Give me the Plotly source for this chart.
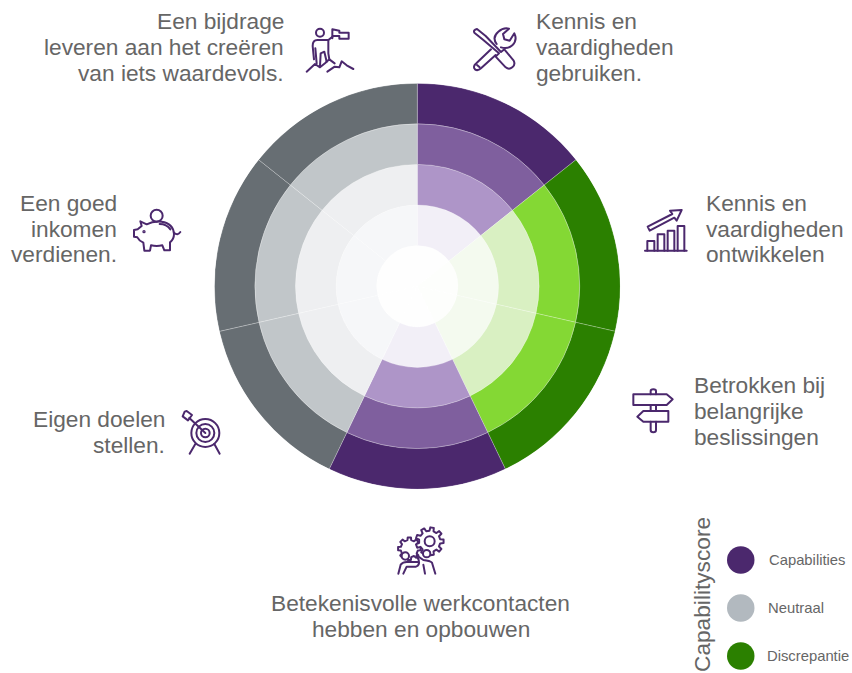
import base64, math
import plotly.graph_objects as go

W, H = 852, 673
categories = ["Kennis en vaardigheden gebruiken", "Kennis en vaardigheden ontwikkelen",
              "Betrokken bij belangrijke beslissingen", "Betekenisvolle werkcontacten",
              "Eigen doelen stellen", "Een goed inkomen verdienen", "Een bijdrage leveren"]
scores = ["Capabilities", "Discrepantie", "Discrepantie", "Capabilities", "Neutraal", "Neutraal", "Neutraal"]
rings = [1, 2, 3, 4, 5]
ring_widths = [1, 1, 1, 1, 1]
palette = {
    "Capabilities": ["#FEFEFE", "#F2EFF7", "#AE95C8", "#7F5F9E", "#4B286D"],
    "Discrepantie": ["#FDFEFC", "#F4FAEF", "#D9F0C2", "#84D834", "#2B8000"],
    "Neutraal":     ["#FEFEFE", "#F6F7F9", "#EEEFF1", "#C1C6C9", "#676E73"],
}
legend_labels = ["Capabilities", "Neutraal", "Discrepantie"]
legend_colors = ["#4B286D", "#B2B9BF", "#2B8000"]
TEXT = "#666666"
PURPLE = "#4B286D"
FONT = "Liberation Sans"
BIG = 22.7


def px(x): return x / W
def py(y): return 1 - y / H


fig = go.Figure()
step = 360 / len(categories)
thetas = [step * (i + 0.5) for i in range(len(categories))]
for k, ring in enumerate(rings):
    fig.add_trace(go.Barpolar(
        r=[ring_widths[k]] * len(categories),
        base=[ring - 1] * len(categories),
        theta=thetas,
        width=[step] * len(categories),
        text=categories,
        marker=dict(color=[palette[s][k] for s in scores],
                    line=dict(color="rgba(255,255,255,0.35)", width=0.7)),
        showlegend=False, hoverinfo="text",
    ))

labels = [
    ("Een bijdrage", 286, 21, "right"), ("leveren aan het creëren", 286, 47, "right"),
    ("van iets waardevols.", 286, 73, "right"),
    ("Kennis en", 534, 21, "left"), ("vaardigheden", 534, 47, "left"), ("gebruiken.", 534, 73, "left"),
    ("Kennis en", 704, 203, "left"), ("vaardigheden", 704, 229, "left"), ("ontwikkelen", 704, 254, "left"),
    ("Betrokken bij", 692, 385, "left"), ("belangrijke", 692, 411, "left"), ("beslissingen", 692, 437, "left"),
    ("Een goed", 119, 203, "right"), ("inkomen", 119, 229, "right"), ("verdienen.", 119, 254, "right"),
    ("Eigen doelen", 167, 419, "right"), ("stellen.", 167, 445, "right"),
    ("Betekenisvolle werkcontacten", 420.5, 603, "center"), ("hebben en opbouwen", 420.5, 629, "center"),
]
annotations = []
for txt, x, y, al in labels:
    annotations.append(dict(text=txt, x=px(x), y=py(y), xref="paper", yref="paper", showarrow=False,
                            xanchor=al, yanchor="middle", align=al,
                            font=dict(family=FONT, size=BIG, color=TEXT)))
annotations.append(dict(text="Capabilityscore", x=px(702), y=py(595), xref="paper", yref="paper",
                        showarrow=False, textangle=-90, xanchor="center", yanchor="middle",
                        font=dict(family=FONT, size=BIG, color=TEXT)))
shapes = []
for lab, col, y, x0 in zip(legend_labels, legend_colors, [560, 608, 656], [767, 766, 765]):
    shapes.append(dict(type="circle", xref="paper", yref="paper", fillcolor=col, line_width=0,
                       x0=px(727), x1=px(754.5), y0=py(y + 13.7), y1=py(y - 13.7)))
    annotations.append(dict(text=lab, x=px(x0), y=py(y), xref="paper", yref="paper", showarrow=False,
                            xanchor="left", yanchor="middle",
                            font=dict(family=FONT, size=14.8, color=TEXT)))


def gear(cx, cy, r0, r1, teeth):
    pts = []
    n = teeth
    for i in range(n):
        a = 2 * math.pi * i / n
        d = 2 * math.pi / n
        for off, r in [(-0.28, r0), (-0.18, r1), (0.18, r1), (0.28, r0)]:
            pts.append((cx + r * math.cos(a + off * d), cy + r * math.sin(a + off * d)))
    return "M" + " L".join(f"{x:.1f} {y:.1f}" for x, y in pts) + " Z"


icons = [
    (300, 20, '<circle cx="60" cy="38" r="12"/>'
              '<path d="M97 55 V28 L118 32 V38 H146 V56 H118 V48 L97 48"/>'
              '<path d="M42 118 L38 78 Q38 60 52 60 H85 L98 50"/>'
              '<path d="M85 60 V100 L88 118"/><path d="M46 85 L50 130"/>'
              '<path d="M60 138 L62 100 L73 95 L80 125"/>'
              '<path d="M20 155 L45 132 L60 142 L75 130 L88 118 L104 130"/>'
              '<path d="M82 155 L104 140 L118 142 L125 124 L140 136 L160 147"/>'),
    (465, 20, '<path d="M28 38 Q24 30 36 27 L62 48 L108 96 L118 88 L146 122 Q152 134 142 142 Q132 150 122 142 L92 110 L102 100 L55 60 Z"/>'
              '<path d="M78 88 L34 130 Q22 140 30 148 Q38 154 48 145 L92 105"/>'
              '<path d="M95 72 Q80 52 100 35 Q115 22 132 26 L114 42 L118 58 L134 62 L148 40 Q158 60 142 76 Q128 88 108 82"/>'
              '<path d="M36 135 L44 142"/>'),
    (635, 200, '<path d="M30 152 H155"/><path d="M37 152 V123 H58 V152"/><path d="M68 152 V103 H88 V152"/>'
               '<path d="M98 152 V92 H118 V152"/><path d="M128 152 V78 H148 V152"/>'
               '<path d="M38 80 L44 92 L118 53 L125 62 L140 30 L105 32 L112 42 Z"/>'),
    (625, 380, '<path d="M25 43 H125 L143 58 L125 75 H25 Z"/><path d="M55 93 H130 V125 H55 L37 110 Z"/>'
               '<path d="M77 43 V33 Q77 28 85 28 Q93 28 93 33 V43"/><path d="M77 75 V93 M93 75 V93"/>'
               '<path d="M77 125 V150 Q77 157 85 157 Q93 157 93 150 V125"/>'),
    (125, 200, '<circle cx="95" cy="47" r="18"/>'
               '<path d="M46 64 L65 73 Q85 62 110 65 Q145 70 147 102 Q147 118 135 127 V151 H118 L112 136 Q95 140 78 136 L75 152 H58 L55 128 Q42 122 37 112 L27 110 V90 L38 88 Q45 82 50 78 Z"/>'
               '<path d="M147 98 Q158 108 166 96"/><path d="M104 72 Q125 72 136 88"/>'
               '<circle cx="57" cy="95" r="2"/>'),
    (172, 403, '<circle cx="100" cy="90" r="42"/><circle cx="100" cy="90" r="27"/><circle cx="100" cy="90" r="13"/>'
               '<path d="M100 90 L52 45"/><path d="M38 26 L32 40 L48 52 L60 36 L44 24 Z"/>'
               '<path d="M70 123 L53 152 M127 123 L143 152"/>'),
    (390, 522, f'<path d="{gear(58, 80, 26, 34, 8)}"/>'
               f'<path fill="white" d="{gear(119, 58, 32, 42, 9)}"/><circle cx="119" cy="58" r="15"/>'
               '<circle cx="46" cy="102" r="11" fill="white"/><circle cx="110" cy="95" r="11" fill="white"/>'
               '<path d="M25 155 L32 128 Q40 118 55 120 H82 M40 155 L50 134 H78 Q90 130 86 114 L80 100"/>'
               '<path d="M80 100 L100 114 Q120 116 126 122 L136 155 M100 128 L105 155"/>'),
]
images = []
for ox, oy, body in icons:
    svg = ('<svg xmlns="http://www.w3.org/2000/svg" width="180" height="180" viewBox="0 0 180 180">'
           f'<g fill="none" stroke="{PURPLE}" stroke-width="6" stroke-linejoin="round" stroke-linecap="round">{body}</g></svg>')
    src = "data:image/svg+xml;base64," + base64.b64encode(svg.encode()).decode()
    images.append(dict(source=src, xref="paper", yref="paper", x=px(ox), y=py(oy),
                       sizex=60 / W, sizey=60 / H, xanchor="left", yanchor="top", sizing="stretch", layer="above"))

fig.update_layout(
    width=W, height=H, margin=dict(l=0, r=0, t=0, b=0), paper_bgcolor="white",
    polar=dict(domain=dict(x=[px(214.3), px(620.3)], y=[py(489.2), py(83.2)]),
               bgcolor="white", barmode="overlay",
               radialaxis=dict(visible=False, range=[0, 5]),
               angularaxis=dict(visible=False, direction="clockwise", rotation=90)),
    annotations=annotations, shapes=shapes, images=images,
)
fig.write_html("out.html", config=dict(displayModeBar=False),
               post_script="document.body.style.margin='0';document.documentElement.style.overflow='hidden';")
